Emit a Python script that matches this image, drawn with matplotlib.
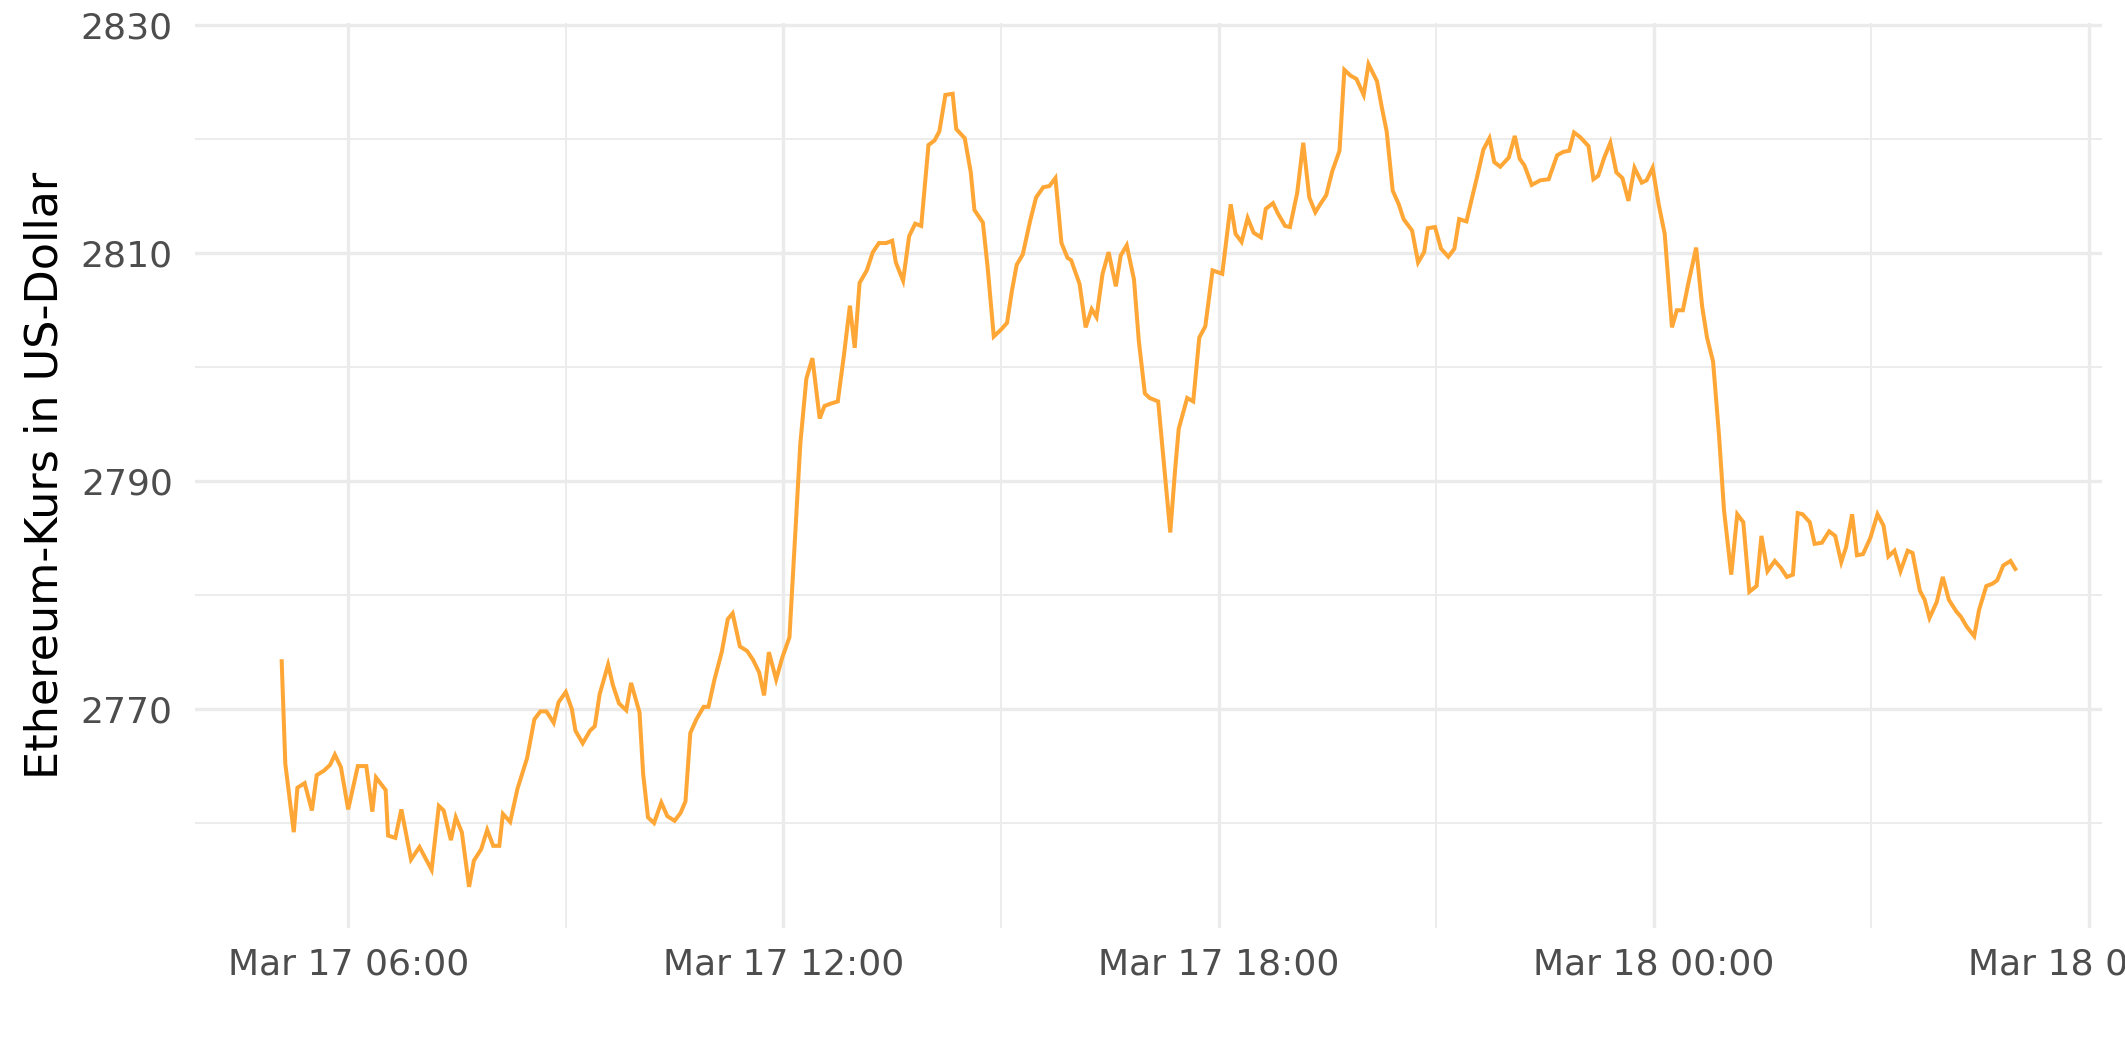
import matplotlib
matplotlib.use("Agg")
import matplotlib.pyplot as plt
import matplotlib.dates as mdates
import pandas as pd

# ---- data ----
times_mar17 = [
    "05:05", "05:08", "05:15", "05:18", "05:24", "05:30", "05:34", "05:40", "05:45", "05:49",
    "05:54", "06:00", "06:08", "06:15", "06:20", "06:23", "06:31", "06:33", "06:39", "06:44",
    "06:52", "06:59", "07:09", "07:15", "07:19", "07:25", "07:29", "07:34", "07:40", "07:44",
    "07:50", "07:55", "08:00", "08:05", "08:08", "08:14", "08:20", "08:28", "08:34", "08:39",
    "08:44", "08:50", "08:54", "09:00", "09:05", "09:08", "09:14", "09:20", "09:24", "09:28",
    "09:35", "09:39", "09:44", "09:50", "09:54", "10:01", "10:04", "10:08", "10:13", "10:19",
    "10:24", "10:30", "10:35", "10:39", "10:43", "10:48", "10:54", "10:58", "11:03", "11:09",
    "11:14", "11:18", "11:24", "11:30", "11:35", "11:40", "11:44", "11:48", "11:54", "11:59",
    "12:05", "12:14", "12:19", "12:24", "12:30", "12:34", "12:39", "12:45", "12:50", "12:55",
    "12:59", "13:03", "13:09", "13:14", "13:19", "13:25", "13:30", "13:33", "13:39", "13:44",
    "13:49", "13:54", "14:00", "14:05", "14:09", "14:14", "14:20", "14:23", "14:30", "14:35",
    "14:38", "14:45", "14:49", "14:54", "15:00", "15:05", "15:09", "15:13", "15:18", "15:24",
    "15:29", "15:35", "15:40", "15:45", "15:50", "15:55", "15:58", "16:05", "16:10", "16:15",
    "16:19", "16:24", "16:29", "16:35", "16:39", "16:44", "16:50", "16:54", "16:59", "17:03",
    "17:10", "17:15", "17:20", "17:24", "17:27", "17:34", "17:39", "17:44", "17:49", "17:55",
    "18:03", "18:10", "18:14", "18:19", "18:24", "18:29", "18:35", "18:39", "18:45", "18:49",
    "18:55", "18:59", "19:05", "19:10", "19:15", "19:20", "19:24", "19:29", "19:34", "19:40",
    "19:44", "19:49", "19:54", "20:00", "20:04", "20:11", "20:15", "20:19", "20:24", "20:29",
    "20:33", "20:40", "20:45", "20:50", "20:53", "20:59", "21:04", "21:10", "21:15", "21:19",
    "21:25", "21:29", "21:34", "21:39", "21:44", "21:48", "21:53", "22:00", "22:05", "22:09",
    "22:13", "22:19", "22:26", "22:33", "22:40", "22:45", "22:50", "22:54", "22:59", "23:06",
    "23:10", "23:14", "23:19", "23:24", "23:29", "23:34", "23:39", "23:44", "23:50", "23:54",
    "23:59",
]
prices_mar17 = [
    2774.2, 2765.2, 2759.2, 2763.1, 2763.5, 2761.1, 2764.2, 2764.6, 2765.1, 2766.0,
    2764.9, 2761.2, 2765.0, 2765.0, 2761.0, 2764.0, 2762.9, 2758.9, 2758.7, 2761.2,
    2756.8, 2757.9, 2755.9, 2761.5, 2761.1, 2758.5, 2760.5, 2759.2, 2754.4, 2756.7,
    2757.7, 2759.4, 2758.0, 2758.0, 2760.8, 2760.1, 2763.0, 2765.7, 2769.1, 2769.8,
    2769.8, 2768.8, 2770.6, 2771.5, 2770.0, 2768.1, 2767.0, 2768.1, 2768.5, 2771.3,
    2773.9, 2772.1, 2770.5, 2769.9, 2772.3, 2769.7, 2764.3, 2760.5, 2760.0, 2761.8,
    2760.6, 2760.2, 2760.9, 2761.9, 2767.9, 2769.1, 2770.2, 2770.2, 2772.6, 2775.0,
    2777.9, 2778.4, 2775.5, 2775.1, 2774.3, 2773.2, 2771.2, 2775.0, 2772.6, 2774.5,
    2776.3, 2793.3, 2799.0, 2800.8, 2795.5, 2796.6, 2796.8, 2797.0, 2801.0, 2805.4,
    2801.7, 2807.4, 2808.5, 2810.1, 2810.9, 2810.9, 2811.1, 2809.2, 2807.6, 2811.5,
    2812.6, 2812.4, 2819.5, 2819.9, 2820.7, 2823.9, 2824.0, 2820.9, 2820.1, 2817.1,
    2813.8, 2812.7, 2808.7, 2802.7, 2803.3, 2803.9, 2806.7, 2809.0, 2809.9, 2812.8,
    2814.9, 2815.8, 2815.9, 2816.6, 2810.9, 2809.6, 2809.4, 2807.3, 2803.5, 2805.1,
    2804.4, 2808.2, 2810.1, 2807.1, 2809.8, 2810.7, 2807.7, 2802.3, 2797.7, 2797.3,
    2797.0, 2791.3, 2785.5, 2791.0, 2794.6, 2797.3, 2797.0, 2802.6, 2803.6, 2808.5,
    2808.2, 2814.3, 2811.7, 2811.0, 2813.1, 2811.8, 2811.4, 2813.9, 2814.4, 2813.5,
    2812.4, 2812.3, 2815.3, 2819.7, 2814.9, 2813.6, 2814.3, 2815.1, 2817.2, 2819.0,
    2826.1, 2825.6, 2825.3, 2823.9, 2826.6, 2825.1, 2822.8, 2820.7, 2815.5, 2814.3,
    2813.0, 2812.0, 2809.2, 2810.1, 2812.2, 2812.3, 2810.4, 2809.7, 2810.4, 2813.0,
    2812.8, 2814.6, 2816.8, 2819.1, 2820.1, 2818.0, 2817.6, 2818.4, 2820.3, 2818.3,
    2817.7, 2816.0, 2816.4, 2816.5, 2818.6, 2818.9, 2819.0, 2820.6, 2820.2, 2819.4,
    2816.5, 2816.8, 2818.4, 2819.7, 2817.1, 2816.6, 2814.6, 2817.5, 2816.2, 2816.4,
    2817.5,
]
times_mar18 = [
    "00:04", "00:09", "00:15", "00:19", "00:24", "00:29", "00:35", "00:40", "00:44", "00:49",
    "00:54", "00:58", "01:04", "01:09", "01:14", "01:19", "01:25", "01:29", "01:34", "01:40",
    "01:45", "01:50", "01:55", "01:59", "02:03", "02:09", "02:13", "02:19", "02:25", "02:30",
    "02:35", "02:39", "02:44", "02:48", "02:53", "02:59", "03:05", "03:10", "03:14", "03:19",
    "03:24", "03:30", "03:34", "03:40", "03:44", "03:48", "03:54", "03:59", "04:04", "04:10",
    "04:14", "04:19", "04:25", "04:29", "04:35", "04:40", "04:44", "04:49", "04:55", "04:59",
]
prices_mar18 = [
    2814.3, 2811.7, 2803.5, 2805.0, 2805.0, 2807.6, 2810.5, 2805.3, 2802.6, 2800.5,
    2793.9, 2787.5, 2781.8, 2787.1, 2786.4, 2780.3, 2780.8, 2785.2, 2782.1, 2783.0,
    2782.4, 2781.6, 2781.8, 2787.2, 2787.1, 2786.4, 2784.5, 2784.6, 2785.6, 2785.2,
    2782.9, 2784.2, 2787.1, 2783.5, 2783.6, 2785.0, 2787.1, 2786.1, 2783.4, 2783.9,
    2782.1, 2783.9, 2783.7, 2780.4, 2779.6, 2778.0, 2779.4, 2781.6, 2779.6, 2778.6,
    2778.1, 2777.2, 2776.4, 2778.7, 2780.8, 2781.0, 2781.3, 2782.6, 2783.0, 2782.3,
]
y_label = "Ethereum-Kurs in US-Dollar"
y_major_ticks = [2770, 2790, 2810, 2830]
y_minor_ticks = [2760, 2780, 2800, 2820]

# ---- build series ----
ts = pd.to_datetime(["2022-03-17 " + t for t in times_mar17] +
                    ["2022-03-18 " + t for t in times_mar18])
prices = prices_mar17 + prices_mar18

W, H = 2125, 1062
fig = plt.figure(figsize=(W / 100, H / 100), dpi=100)
ax = fig.add_axes([195 / W, 1 - 928 / H, (2102 - 195) / W, (928 - 23) / H])

ax.plot(ts, prices, color="#FFA736", linewidth=2.9, solid_joinstyle="miter", zorder=3)

# ggplot-like expansion (5%)
tmin, tmax = ts.min(), ts.max()
span = tmax - tmin
ax.set_xlim(tmin - span * 0.05, tmax + span * 0.05)
pmin, pmax = min(prices), max(prices)
pr = pmax - pmin
ax.set_ylim(pmin - 0.05 * pr, pmax + 0.05 * pr)

ax.xaxis.set_major_locator(mdates.HourLocator(byhour=[0, 6, 12, 18]))
ax.xaxis.set_minor_locator(mdates.HourLocator(byhour=[3, 9, 15, 21]))
ax.xaxis.set_major_formatter(mdates.DateFormatter("%b %d %H:%M"))
ax.set_yticks(y_major_ticks)
ax.set_yticks(y_minor_ticks, minor=True)

ax.grid(which="major", color="#EBEBEB", linewidth=2.4, zorder=0)
ax.grid(which="minor", color="#EBEBEB", linewidth=1.3, zorder=0)
ax.set_axisbelow(True)
for s in ax.spines.values():
    s.set_visible(False)
ax.tick_params(which="both", length=0)
ax.tick_params(axis="x", labelsize=26, labelcolor="#4D4D4D", pad=14)
ax.tick_params(axis="y", labelsize=26, labelcolor="#4D4D4D", pad=16)
ax.set_ylabel(y_label, fontsize=32, color="black", labelpad=10)

fig.savefig("out.png", dpi=100, facecolor="white")
